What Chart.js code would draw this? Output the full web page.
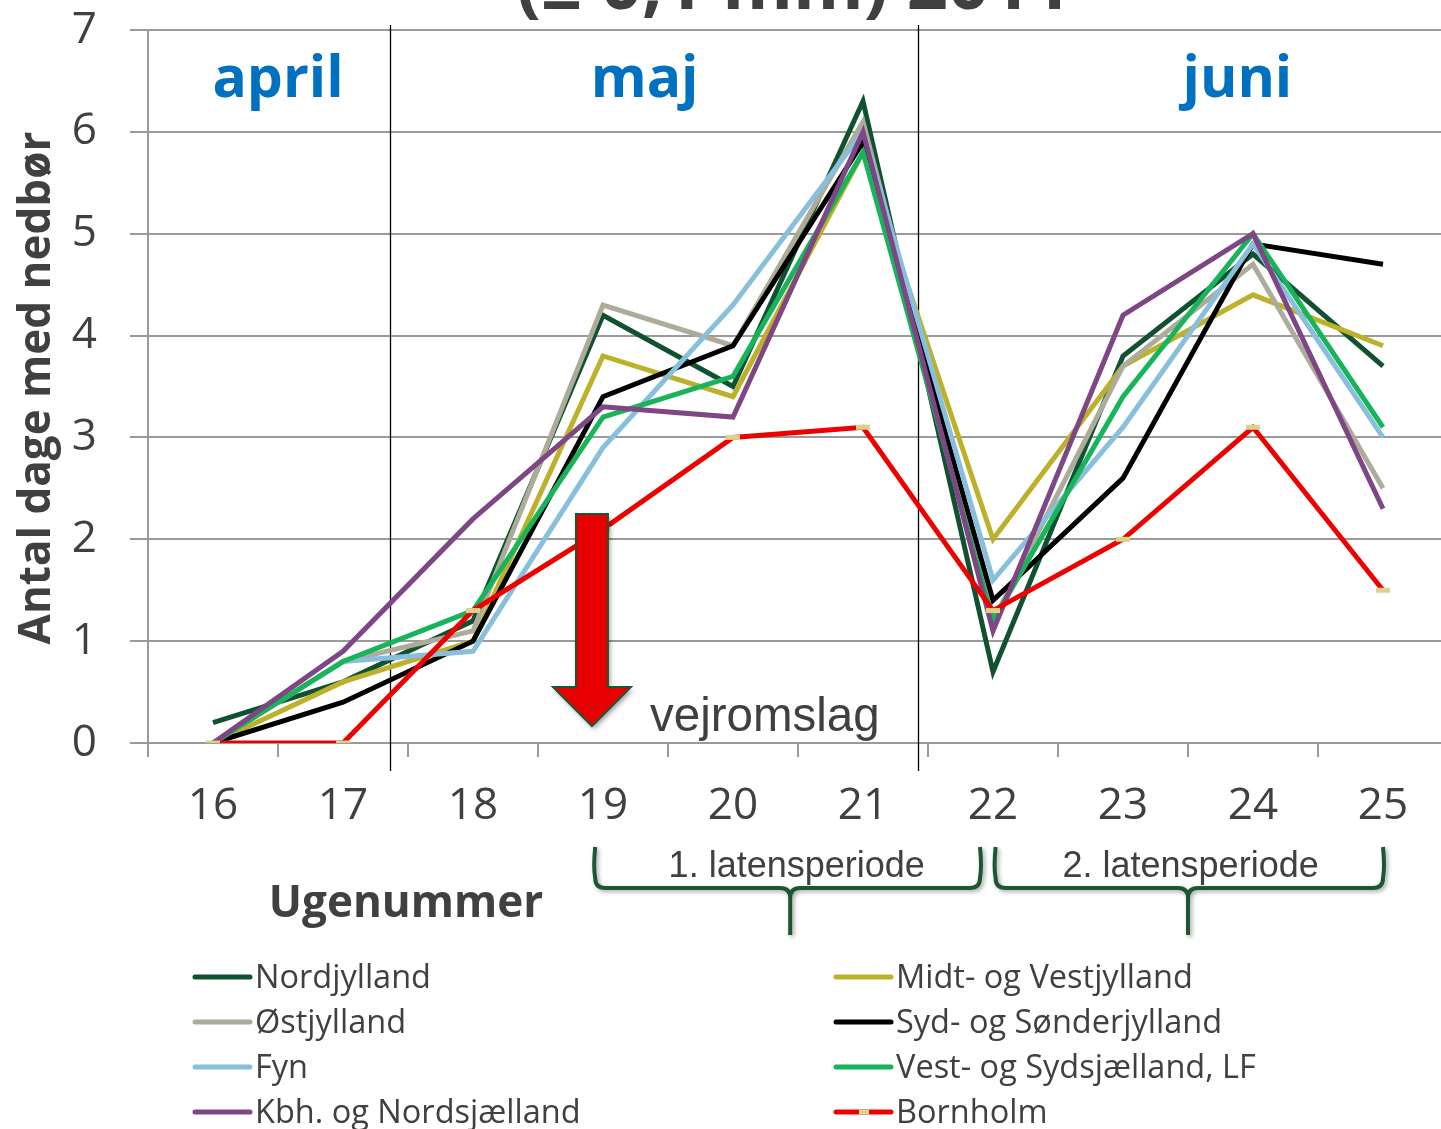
<!DOCTYPE html>
<html>
<head>
<meta charset="utf-8">
<script src="https://cdn.jsdelivr.net/npm/chart.js@4.4.0/dist/chart.umd.min.js"></script>
<style>
html, body { margin: 0; padding: 0; overflow: hidden; background: #fff; }
#wrap { width: 1460px; height: 1129px; }
</style>
</head>
<body>
<div id="wrap"><canvas id="chart" width="1460" height="1129"></canvas></div>
<script>
// week numbers on the x axis
const weeks = ['16', '17', '18', '19', '20', '21', '22', '23', '24', '25'];
const yTicks = [0, 1, 2, 3, 4, 5, 6, 7];

// days with precipitation per week, one array per region
const nordjylland       = [0.2, 0.6, 1.2, 4.2, 3.5, 6.3, 0.7, 3.8, 4.8, 3.7];
const midtVestjylland   = [0.0, 0.6, 1.0, 3.8, 3.4, 5.8, 2.0, 3.7, 4.4, 3.9];
const oestjylland       = [0.0, 0.8, 1.1, 4.3, 3.9, 6.1, 1.2, 3.7, 4.7, 2.5];
const sydSoenderjylland = [0.0, 0.4, 1.0, 3.4, 3.9, 5.9, 1.4, 2.6, 4.9, 4.7];
const fyn               = [0.0, 0.8, 0.9, 2.9, 4.3, 6.0, 1.6, 3.1, 4.9, 3.0];
const vestSydsjaelland  = [0.0, 0.8, 1.3, 3.2, 3.6, 5.8, 1.2, 3.4, 5.0, 3.1];
const kbhNordsjaelland  = [0.0, 0.9, 2.2, 3.3, 3.2, 6.0, 1.1, 4.2, 5.0, 2.3];
const bornholm          = [0.0, 0.0, 1.3, 2.1, 3.0, 3.1, 1.3, 2.0, 3.1, 1.5];

const months = ['april', 'maj', 'juni'];
const periods = ['1. latensperiode', '2. latensperiode'];

const TXT = '#404040';
const GRID = '#9A9A9A';

const series = [
    {label: 'Nordjylland', data: nordjylland, color: '#0F5130'},
    {label: 'Midt- og Vestjylland', data: midtVestjylland, color: '#BDB02A'},
    {label: 'Østjylland', data: oestjylland, color: '#ADAB99'},
    {label: 'Syd- og Sønderjylland', data: sydSoenderjylland, color: '#000000'},
    {label: 'Fyn', data: fyn, color: '#88BFDC'},
    {label: 'Vest- og Sydsjælland, LF', data: vestSydsjaelland, color: '#17B45A'},
    {label: 'Kbh. og Nordsjælland', data: kbhNordsjaelland, color: '#7E4684'},
    {label: 'Bornholm', data: bornholm, color: '#EE0000', marker: '#DDD08A'}
];

function brace(ctx, x1, x2, xm, yTop, yBar, yStem) {
    const r = 10;
    ctx.beginPath();
    ctx.moveTo(x1, yTop);
    ctx.quadraticCurveTo(x1 - 2, yTop + 20, x1, yBar - r);
    ctx.quadraticCurveTo(x1, yBar, x1 + r, yBar);
    ctx.lineTo(xm - r, yBar);
    ctx.quadraticCurveTo(xm, yBar, xm, yBar + r);
    ctx.lineTo(xm, yStem);
    ctx.moveTo(x2, yTop);
    ctx.quadraticCurveTo(x2 + 2, yTop + 20, x2, yBar - r);
    ctx.quadraticCurveTo(x2, yBar, x2 - r, yBar);
    ctx.lineTo(xm + r, yBar);
    ctx.quadraticCurveTo(xm, yBar, xm, yBar + r);
    ctx.stroke();
}

const decorations = {
    id: 'decorations',
    beforeDatasetsDraw(chart) {
        const {ctx, scales: {x}} = chart;
        ctx.save();
        ctx.strokeStyle = '#000';
        ctx.lineWidth = 1.3;
        [1.36, 5.42].forEach(v => {
            const px = Math.round(x.getPixelForValue(v)) + 0.5;
            ctx.beginPath();
            ctx.moveTo(px, 25);
            ctx.lineTo(px, 771);
            ctx.stroke();
        });
        ctx.restore();
    },
    afterDatasetsDraw(chart) {
        const {ctx, scales: {x}} = chart;
        // red arrow "vejromslag"
        const cx = x.getPixelForValue(2.915);
        ctx.save();
        ctx.shadowColor = 'rgba(0,0,0,0.4)';
        ctx.shadowBlur = 5;
        ctx.shadowOffsetX = 2;
        ctx.shadowOffsetY = 3;
        ctx.beginPath();
        ctx.moveTo(cx - 16, 514);
        ctx.lineTo(cx + 16, 514);
        ctx.lineTo(cx + 16, 687);
        ctx.lineTo(cx + 39, 687);
        ctx.lineTo(cx, 726);
        ctx.lineTo(cx - 39, 687);
        ctx.lineTo(cx - 16, 687);
        ctx.closePath();
        ctx.fillStyle = '#E60000';
        ctx.fill();
        ctx.shadowColor = 'transparent';
        ctx.strokeStyle = '#1E5631';
        ctx.lineWidth = 2;
        ctx.stroke();
        ctx.restore();
    },
    afterDraw(chart) {
        const {ctx, scales: {x}} = chart;
        ctx.save();
        ctx.fillStyle = TXT;

        // cut-off title line
        ctx.font = 'bold 72px "Open Sans"';
        ctx.textAlign = 'center';
        ctx.textBaseline = 'alphabetic';
        ctx.fillText('(≥ 0,1 mm) 2011', 794, 9);

        // month names
        ctx.fillStyle = '#0070C0';
        ctx.font = 'bold 57px "Open Sans"';
        [0.5, 3.32, 7.88].forEach((v, i) => ctx.fillText(months[i], x.getPixelForValue(v), 97));

        // axis titles
        ctx.fillStyle = TXT;
        ctx.font = 'bold 44px "Open Sans"';
        ctx.fillText('Ugenummer', 406, 917);
        ctx.save();
        ctx.translate(50, 388);
        ctx.rotate(-Math.PI / 2);
        ctx.fillText('Antal dage med nedbør', 0, 0);
        ctx.restore();

        // vejromslag
        ctx.font = '47.5px "Liberation Sans"';
        ctx.textAlign = 'left';
        ctx.fillText('vejromslag', 650, 731);

        // latency period braces
        ctx.save();
        ctx.strokeStyle = '#1E5631';
        ctx.lineWidth = 4;
        ctx.lineJoin = 'round';
        ctx.shadowColor = 'rgba(0,0,0,0.35)';
        ctx.shadowBlur = 4;
        ctx.shadowOffsetX = 2;
        ctx.shadowOffsetY = 2;
        brace(ctx, x.getPixelForValue(2.94), x.getPixelForValue(5.9), x.getPixelForValue(4.44), 847, 888, 935);
        brace(ctx, x.getPixelForValue(6.02), x.getPixelForValue(9.0), x.getPixelForValue(7.5), 847, 888, 935);
        ctx.restore();
        ctx.font = '36px "Liberation Sans"';
        ctx.textAlign = 'center';
        ctx.fillText(periods[0], x.getPixelForValue(4.49), 877);
        ctx.fillText(periods[1], x.getPixelForValue(7.52), 877);

        // legend, two columns
        const colLine = [195, 836];
        chart.data.datasets.forEach((ds, i) => {
            const col = i % 2, row = Math.floor(i / 2);
            const yc = 977 + row * 45;
            const x0 = colLine[col];
            ctx.strokeStyle = ds.borderColor;
            ctx.lineWidth = 5;
            ctx.lineCap = 'round';
            ctx.beginPath();
            ctx.moveTo(x0, yc);
            ctx.lineTo(x0 + 55, yc);
            ctx.stroke();
            if (ds.pointRadius > 0) {
                ctx.fillStyle = ds.pointBorderColor;
                ctx.fillRect(x0 + 23, yc - 2.5, 10, 5);
            }
            ctx.fillStyle = TXT;
            ctx.font = '32.5px "Open Sans"';
            ctx.textAlign = 'left';
            ctx.fillText(ds.label, x0 + 60, yc + 11);
        });
        ctx.restore();
    }
};

new Chart(document.getElementById('chart'), {
    type: 'line',
    data: {
        labels: weeks,
        datasets: series.map((s, i) => ({
            label: s.label,
            data: s.data,
            borderColor: s.color,
            backgroundColor: s.color,
            borderWidth: 5,
            tension: 0,
            order: series.length - i,
            pointRadius: s.marker ? 7 : 0,
            pointStyle: 'line',
            pointBorderColor: s.marker || s.color,
            pointBorderWidth: 5,
            pointHoverRadius: 0
        }))
    },
    options: {
        responsive: false,
        animation: false,
        devicePixelRatio: 1,
        layout: {padding: {top: 30, right: 12, bottom: 0, left: 0}},
        plugins: {
            legend: {display: false},
            tooltip: {enabled: false},
            title: {display: false}
        },
        scales: {
            x: {
                offset: true,
                grid: {display: true, drawOnChartArea: false, drawTicks: true, tickLength: 14, color: GRID, lineWidth: 2, offset: true},
                border: {display: true, color: GRID, width: 2},
                ticks: {color: TXT, font: {family: 'Open Sans', size: 44}, padding: 23, maxRotation: 0, autoSkip: false},
                afterFit: s => { s.height = 386; }
            },
            y: {
                min: 0,
                max: 7,
                afterBuildTicks: s => { s.ticks = yTicks.map(v => ({value: v})); },
                grid: {color: GRID, lineWidth: 2, tickLength: 18},
                border: {display: true, color: GRID, width: 2},
                ticks: {color: TXT, font: {family: 'Open Sans', size: 44}, padding: 33},
                afterFit: s => {
                    s.width = 148;
                    s.paddingTop = 0;
                    s.paddingBottom = 0;
                }
            }
        }
    },
    plugins: [decorations]
});
</script>
</body>
</html>
